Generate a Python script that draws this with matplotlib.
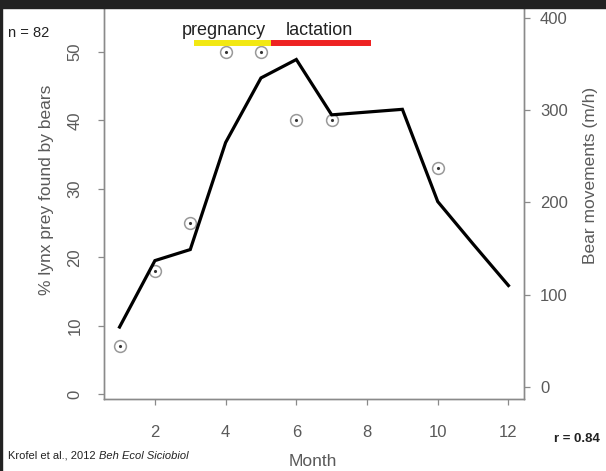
import matplotlib
matplotlib.use("Agg")
import matplotlib.pyplot as plt
from matplotlib.patches import Rectangle

plt.rcParams['font.family'] = ['Liberation Sans', 'DejaVu Sans']

# bear movements (m/h), right axis
months = [1, 2, 3, 4, 5, 6, 7, 8, 9, 10, 11, 12]
bear_moves = [65, 137, 149, 265, 335, 355, 295, 298, 301, 201, 155, 110]

# % lynx prey found by bears, left axis
prey_months = [1, 2, 3, 4, 5, 6, 7, 10]
prey_pct = [7, 18, 25, 50, 50, 40, 40, 33]

# reproductive periods (month spans)
pregnancy = (3.10, 5.28)
lactation = (5.28, 8.10)

grey = '#8a8a8a'
txt = '#5a5a5a'

fig = plt.figure(figsize=(6.06, 4.71), dpi=100)
ax = fig.add_axes([104/606, 1 - 399/471, 420/606, 399/471])
ax2 = ax.twinx()

# markers: circle with a dot
ax.plot(prey_months, prey_pct, 'o', ms=8.5, mfc='none', mec='#999999', mew=1.1, zorder=3)
ax.plot(prey_months, prey_pct, '.', ms=2.5, color='#333333', zorder=4)

ax2.plot(months, bear_moves, color='black', lw=2.3, solid_joinstyle='miter', zorder=5)

ax.set_xlim(0.56, 12.44)
ax.set_ylim(-0.73, 57.6)
ax2.set_ylim(-13, 419.5)

ax.set_xticks([2, 4, 6, 8, 10, 12])
ax.set_yticks([0, 10, 20, 30, 40, 50])
ax2.set_yticks([0, 100, 200, 300, 400])

for a in (ax, ax2):
    a.spines['top'].set_visible(False)
    for s in ('left', 'right', 'bottom'):
        a.spines[s].set_color(grey)
        a.spines[s].set_linewidth(1.0)
    a.tick_params(colors=grey, labelcolor=txt, length=4.5, width=0.9, labelsize=12)

ax.tick_params(axis='x', pad=14)
ax.tick_params(axis='y', pad=11)
for lbl in ax.get_yticklabels():
    lbl.set_rotation(90)
    lbl.set_va('center')
ax2.tick_params(axis='y', pad=7)

ax.set_xlabel('Month', fontsize=12.5, color=txt)
ax.set_ylabel('% lynx prey found by bears', fontsize=12.5, color=txt)
ax2.set_ylabel('Bear movements (m/h)', fontsize=12.5, color=txt, rotation=90)
ax.xaxis.set_label_coords((313 - 104) / 420, -(462 - 399) / 399)
ax.xaxis.label.set_va('center')
ax.yaxis.set_label_coords(-(104 - 47) / 420, (399 - 190) / 399)
ax.yaxis.label.set_va('center')
ax2.yaxis.set_label_coords((591 - 104) / 420, (399 - 175) / 399)
ax2.yaxis.label.set_va('center')

# pregnancy / lactation bars
ax.plot(pregnancy, [51.3, 51.3], color='#f2e813', lw=4.3, solid_capstyle='butt', zorder=6)
ax.plot(lactation, [51.3, 51.3], color='#ee2222', lw=4.3, solid_capstyle='butt', zorder=6)
fig.text(224/606, 1 - 35/471, 'pregnancy', fontsize=13, color='#222222', ha='center', va='baseline')
fig.text(319/606, 1 - 35/471, 'lactation', fontsize=13, color='#222222', ha='center', va='baseline')

fig.text(8/606, 1 - 37/471, 'n = 82', fontsize=10.5, color='#222222', ha='left', va='baseline')
fig.text(600/606, 1 - 442/471, 'r = 0.84', fontsize=9.5, fontweight='bold', color='#222222',
         ha='right', va='baseline')
t = fig.text(8/606, 1 - 459/471, 'Krofel et al., 2012 ', fontsize=8, color='#222222',
             ha='left', va='baseline')
fig.canvas.draw()
bb = t.get_window_extent()
fig.text(bb.x1 / 606, 1 - 459/471, 'Beh Ecol Siciobiol', fontsize=8, style='italic',
         color='#222222', ha='left', va='baseline')

# dark frame at top and left edge
fig.patches.append(Rectangle((0, 1 - 8/471), 1, 8/471, transform=fig.transFigure,
                             color='#222222', zorder=10))
fig.patches.append(Rectangle((0, 0), 2/606, 1, transform=fig.transFigure,
                             color='#222222', zorder=10))

fig.savefig('out.png', dpi=100)
